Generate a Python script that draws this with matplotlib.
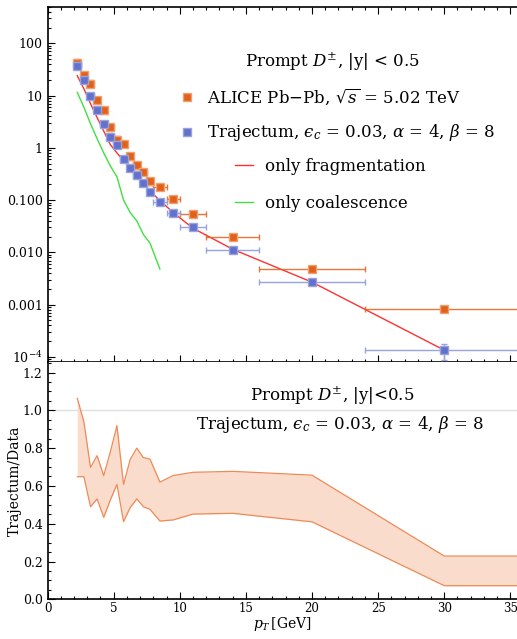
import matplotlib
matplotlib.use("Agg")
import matplotlib.pyplot as plt
from matplotlib.ticker import FixedLocator, FixedFormatter, MultipleLocator, LogLocator, NullFormatter
from matplotlib.lines import Line2D
import numpy as np

plt.rcParams['font.family'] = ['DejaVu Serif']
plt.rcParams['mathtext.fontset'] = 'dejavuserif'

# pT bins (GeV)
pt = [2.25, 2.75, 3.25, 3.75, 4.25, 4.75, 5.25, 5.75, 6.25, 6.75, 7.25, 7.75,
      8.5, 9.5, 11, 14, 20, 30]
pt_halfwidth = [0.25] * 12 + [0.5, 0.5, 1, 2, 4, 6]

# ALICE Pb-Pb prompt D+- yields
alice = [42, 24.4, 17, 8.1, 5.2, 2.5, 1.44, 1.21, 0.69, 0.46, 0.35, 0.23,
         0.18, 0.106, 0.054, 0.0199, 0.0049, 0.00081]
alice_rel_err = [0.2, 0.12, 0.15, 0.15, 0.15, 0.15, 0.15, 0.14, 0.14, 0.14, 0.14, 0.14,
                 0.12, 0.1, 0.08, 0.08, 0.08, 0.08]

# Trajectum yields
traj = [36, 20.2, 10, 5.2, 2.8, 1.6, 1.12, 0.62, 0.41, 0.30, 0.214, 0.142,
        0.093, 0.0555, 0.0303, 0.011, 0.0027, 1.33e-4]
traj_rel_err = [0.04] * 15 + [0.05, 0.1, 0.35]

# fragmentation-only and coalescence-only curves
frag = [24, 13.5, 7.0, 3.8, 2.1, 1.15, 0.80, 0.57, 0.41, 0.29, 0.21, 0.15,
        0.098, 0.058, 0.029, 0.0115, 0.0027, 1.35e-4]
coal_pt = [2.25, 2.75, 3.25, 3.75, 4.25, 4.75, 5.25, 5.75, 6.25, 6.75, 7.25, 7.75, 8.5]
coal = [11.5, 6.0, 2.9, 1.5, 0.8, 0.45, 0.28, 0.10, 0.058, 0.040, 0.022, 0.015, 0.0048]

# Trajectum/Data ratio band
band_pt = pt + [36]
band_lo = [0.649, 0.649, 0.49, 0.531, 0.434, 0.525, 0.608, 0.411, 0.485, 0.531, 0.49, 0.476,
           0.414, 0.42, 0.451, 0.455, 0.41, 0.072, 0.072]
band_hi = [1.063, 0.94, 0.698, 0.76, 0.654, 0.78, 0.919, 0.608, 0.74, 0.80, 0.75, 0.742,
           0.62, 0.655, 0.672, 0.677, 0.657, 0.229, 0.229]

orange = '#E2611A'
orange_light = '#F0A070'
blue = '#6171CC'
blue_light = '#98A3DE'

traj_label = 'Trajectum, $\u03f5_c$ = 0.03, $\\alpha$ = 4, $\\beta$ = 8'
xmax = 35.5

fig = plt.figure(figsize=(5.17, 6.39), dpi=100)
ax1 = fig.add_axes([0.0919, 0.4330, 0.9081, 0.5565])
ax2 = fig.add_axes([0.0919, 0.0621, 0.9081, 0.3709])

pt_a = np.array(pt)
alice_a = np.array(alice)
traj_a = np.array(traj)

ax1.plot(pt, frag, color='#FF3030', lw=1.0, zorder=2)
ax1.plot(coal_pt, coal, color='#40E040', lw=1.0, zorder=2)

ax1.errorbar(pt_a, alice_a, xerr=pt_halfwidth, yerr=alice_a * np.array(alice_rel_err),
             fmt='none', ecolor=orange, elinewidth=1.0, capsize=2, capthick=1.0, alpha=0.85, zorder=3)
ax1.plot(pt_a, alice_a, 's', ms=6, color=orange, mec=orange_light, mew=1.0, zorder=4)

ax1.errorbar(pt_a, traj_a, xerr=pt_halfwidth, yerr=traj_a * np.array(traj_rel_err),
             fmt='none', ecolor=blue_light, elinewidth=1.0, capsize=2, capthick=1.0, zorder=3)
ax1.plot(pt_a, traj_a, 's', ms=6, color=blue, mec=blue_light, mew=1.0, zorder=4)

ax1.set_yscale('log')
ax1.set_xlim(0, xmax)
ax1.set_ylim(7.9e-5, 501)

ytick_vals = [1e-4, 1e-3, 1e-2, 0.1, 1, 10, 100]
ytick_labels = [r'$10^{-4}$', '0.001', '0.010', '0.100', '1', '10', '100']
ax1.yaxis.set_major_locator(FixedLocator(ytick_vals))
ax1.yaxis.set_major_formatter(FixedFormatter(ytick_labels))
ax1.yaxis.set_minor_locator(LogLocator(base=10, subs=np.arange(2, 10), numticks=20))
ax1.yaxis.set_minor_formatter(NullFormatter())
ax1.xaxis.set_major_locator(MultipleLocator(5))
ax1.xaxis.set_minor_locator(MultipleLocator(1))
ax1.tick_params(axis='x', labelbottom=False)

ax1.text(0.608, 0.845, r'Prompt $D^{\pm}$, |y| < 0.5', transform=ax1.transAxes,
         ha='center', va='center', fontsize=12)

h_alice = Line2D([], [], marker='s', ls='none', ms=6, color=orange, mec=orange_light)
h_traj = Line2D([], [], marker='s', ls='none', ms=6, color=blue, mec=blue_light)
leg1 = ax1.legend([h_alice, h_traj],
                  [r'ALICE Pb$-$Pb, $\sqrt{s}$ = 5.02 TeV', traj_label],
                  loc='center left', bbox_to_anchor=(0.279, 0.695), frameon=False,
                  fontsize=12, borderpad=0, borderaxespad=0, handlelength=1.0,
                  handletextpad=0.72, labelspacing=0.9)
ax1.add_artist(leg1)
h_frag = Line2D([], [], color='#FF3030', lw=1.0)
h_coal = Line2D([], [], color='#40E040', lw=1.0)
ax1.legend([h_frag, h_coal], ['only fragmentation', 'only coalescence'],
           loc='center left', bbox_to_anchor=(0.399, 0.499), frameon=False,
           fontsize=12, borderpad=0, borderaxespad=0, handlelength=1.08,
           handletextpad=0.72, labelspacing=1.2)

# ratio panel
ax2.axhline(1.0, color='#E0E0E0', lw=1.0, zorder=1)
ax2.fill_between(band_pt, band_lo, band_hi, color='#F9DCCB', lw=0, zorder=2)
ax2.plot(band_pt, band_lo, color='#EE8A58', lw=0.9, zorder=3)
ax2.plot(band_pt, band_hi, color='#EE8A58', lw=0.9, zorder=3)
ax2.set_xlim(0, xmax)
ax2.set_ylim(0, 1.254)
ax2.yaxis.set_major_locator(MultipleLocator(0.2))
ax2.yaxis.set_minor_locator(MultipleLocator(0.05))
ax2.yaxis.set_major_formatter(plt.FuncFormatter(lambda v, p: f'{v:.1f}'))
ax2.xaxis.set_major_locator(MultipleLocator(5))
ax2.xaxis.set_minor_locator(MultipleLocator(1))
ax2.set_ylabel('Trajectum/Data', fontsize=10, labelpad=1)
ax2.set_xlabel(r'$p_T\,$[GeV]', fontsize=10, labelpad=0)

ax2.text(0.607, 0.858, r'Prompt $D^{\pm}$, |y|<0.5', transform=ax2.transAxes,
         ha='center', va='center', fontsize=12)
ax2.text(0.623, 0.736, traj_label, transform=ax2.transAxes,
         ha='center', va='center', fontsize=12)

for ax in (ax1, ax2):
    ax.spines['right'].set_visible(False)
    ax.tick_params(which='both', direction='in', right=False, labelsize=9, width=0.8)
    ax.tick_params(which='major', length=5)
    ax.tick_params(which='minor', length=2.5)
    for s in ('left', 'bottom', 'top'):
        ax.spines[s].set_linewidth(1.2)
ax1.tick_params(which='both', top=True)
ax2.tick_params(which='both', top=False)
ax2.tick_params(axis='x', pad=2, labelsize=8.5)
ax2.spines['top'].set_visible(False)

fig.savefig('out.png', dpi=100)
